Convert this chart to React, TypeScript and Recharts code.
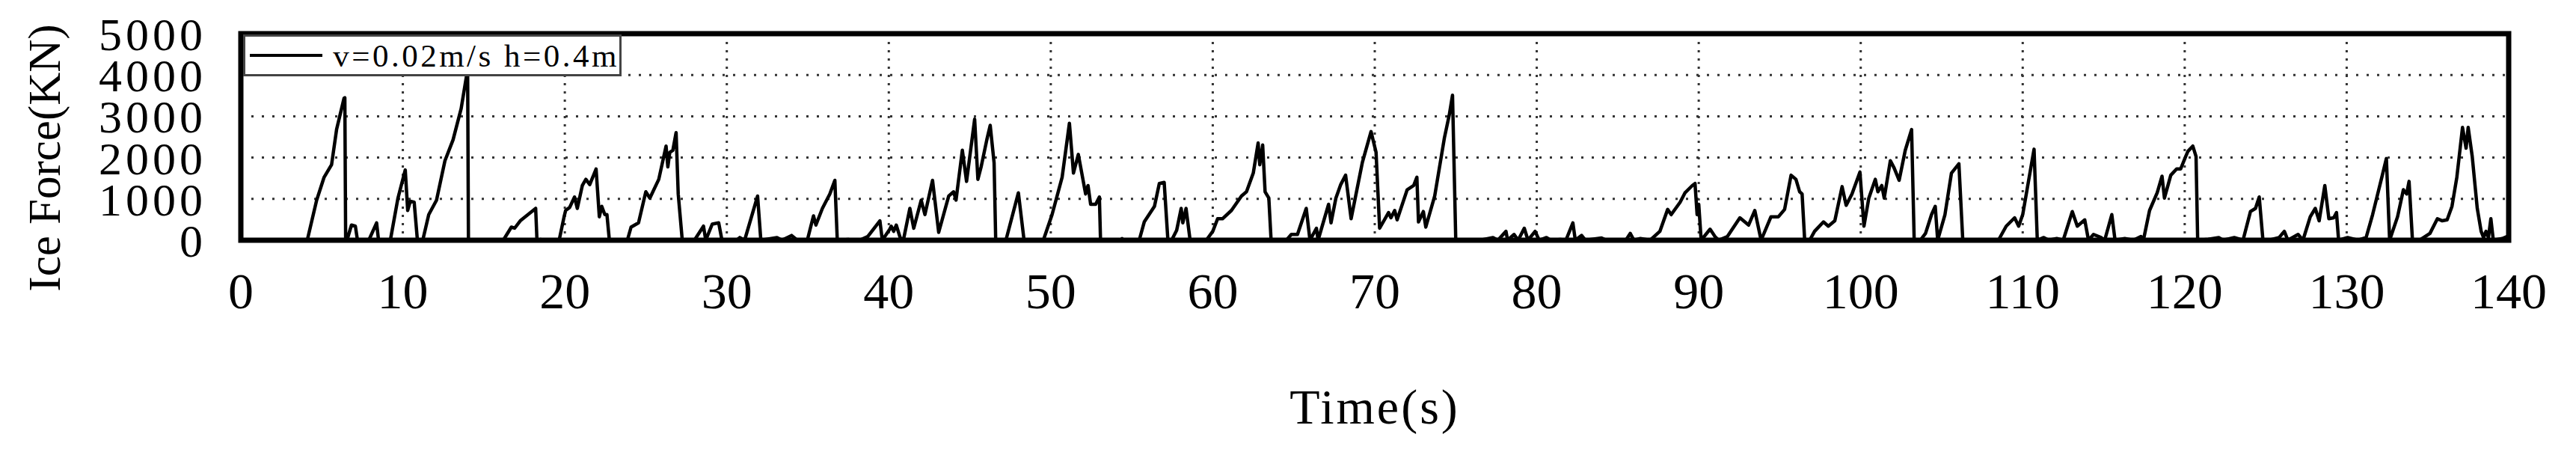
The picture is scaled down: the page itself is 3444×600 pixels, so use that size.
import React from 'react';
import {
  LineChart, Line, XAxis, YAxis, CartesianGrid, Legend, ReferenceArea, Label
} from 'recharts';

// Ice force time history
const timeS: number[] = [
  0, 4.1, 4.68, 5.14, 5.6, 5.91, 6.37, 6.42, 6.47, 6.55, 6.83, 7.07, 7.2, 7.9, 8.38, 8.5,
  9.23, 9.7, 10.15, 10.3, 10.46, 10.7, 10.9, 11.23, 11.6, 12.08, 12.6, 13.1, 13.6, 13.9, 14.0, 14.05,
  16.2, 16.7, 16.9, 17.25, 18.2, 18.28, 18.5, 18.7, 19.65, 19.95, 20.05, 20.3, 20.6, 20.77, 21.08, 21.3,
  21.54, 21.93, 22.13, 22.28, 22.47, 22.6, 22.75, 23.86, 24.09, 24.55, 25.0, 25.25, 25.8, 26.25, 26.36, 26.48,
  26.67, 26.87, 27.0, 27.25, 28.0, 28.56, 28.7, 29.1, 29.5, 29.7, 30.6, 30.8, 31.1, 31.9, 32.1, 33.1,
  33.4, 34.0, 34.35, 34.97, 35.35, 35.5, 35.9, 36.36, 36.67, 36.82, 37.5, 37.75, 38.2, 38.7, 39.45, 39.6,
  40.06, 40.15, 40.3, 40.46, 40.7, 40.9, 41.3, 41.54, 42.0, 42.23, 42.7, 43.08, 43.7, 44.0, 44.15, 44.54,
  44.8, 45.3, 45.5, 45.7, 46.05, 46.26, 46.5, 46.6, 47.23, 48.0, 48.35, 49.54, 50.08, 50.7, 51.15, 51.4,
  51.7, 52.15, 52.3, 52.46, 52.77, 53.0, 53.07, 54.3, 54.4, 54.5, 55.46, 55.77, 56.4, 56.7, 57.0, 57.23,
  57.46, 57.77, 58.05, 58.15, 58.35, 58.6, 59.6, 60.0, 60.3, 60.6, 61.15, 61.77, 62.08, 62.5, 62.8, 62.9,
  63.08, 63.23, 63.46, 63.6, 64.54, 64.85, 65.23, 65.77, 66.0, 66.4, 66.5, 67.15, 67.3, 67.6, 67.9, 68.2,
  68.54, 69.23, 69.77, 70.08, 70.3, 70.85, 71.0, 71.23, 71.38, 72.0, 72.4, 72.6, 72.7, 73.0, 73.15, 73.7,
  74.3, 74.6, 74.8, 75.0, 76.5, 77.3, 77.6, 78.1, 78.2, 78.6, 78.85, 79.23, 79.46, 79.9, 80.15, 80.6,
  80.85, 81.46, 81.8, 82.23, 82.38, 82.77, 83.0, 84.0, 84.3, 85.5, 85.77, 86.0, 86.4, 87.0, 87.6, 88.08,
  88.3, 88.85, 89.15, 89.6, 89.77, 89.9, 90.0, 90.15, 90.7, 91.0, 91.23, 91.77, 92.54, 93.08, 93.46, 93.85,
  94.46, 94.92, 95.3, 95.7, 96.0, 96.23, 96.38, 96.54, 96.85, 97.15, 97.7, 98.0, 98.4, 98.85, 99.1, 99.46,
  99.95, 100.2, 100.5, 100.9, 101.06, 101.3, 101.45, 101.83, 102.06, 102.37, 102.75, 103.14, 103.3, 103.68, 104.0, 104.37,
  104.6, 104.75, 105.2, 105.6, 106.06, 106.3, 108.5, 108.98, 109.5, 109.75, 110.0, 110.7, 110.9, 111.3, 111.6, 112.1,
  112.5, 113.06, 113.37, 113.83, 114.06, 114.37, 114.83, 115.06, 115.5, 115.7, 116.3, 116.83, 117.3, 117.45, 117.83, 118.3,
  118.6, 118.75, 119.14, 119.5, 119.75, 120.06, 120.2, 120.5, 120.7, 120.8, 121.45, 122.1, 122.37, 123.06, 123.6, 124.06,
  124.37, 124.6, 124.83, 125.2, 125.83, 126.15, 126.37, 127.0, 127.3, 127.75, 128.06, 128.3, 128.65, 128.9, 129.2, 129.37,
  129.5, 130.06, 130.7, 131.2, 131.6, 132.2, 132.45, 132.65, 133.14, 133.5, 133.7, 133.85, 134.06, 134.5, 135.14, 135.6,
  135.9, 136.2, 136.5, 136.8, 137.15, 137.37, 137.5, 137.75, 138.06, 138.3, 138.45, 138.6, 138.75, 138.9, 139.05, 139.6,
  139.9, 140
];

const forceKN: number[] = [
  0, 0, 970, 1525, 1826, 2680, 3435, 3450, 0, 0, 367, 340, 0, 0, 420, 0,
  0, 1020, 1700, 720, 945, 920, 0, 0, 620, 970, 1925, 2430, 3185, 3900, 4130, 0,
  0, 317, 290, 470, 770, 0, 20, 0, 0, 560, 720, 795, 1046, 770, 1323, 1474,
  1348, 1725, 568, 820, 620, 620, 0, 0, 317, 420, 1172, 1020, 1474, 2279, 1775, 2128,
  2178, 2605, 1120, 0, 0, 340, 0, 390, 420, 0, 0, 65, 0, 1070, 0, 65,
  0, 115, 0, 0, 590, 367, 770, 1120, 1450, 0, 20, 0, 0, 90, 470, 0,
  267, 340, 215, 367, 65, 0, 770, 290, 970, 620, 1450, 190, 1070, 1172, 970, 2178,
  1424, 2930, 1474, 1775, 2430, 2780, 1876, 0, 0, 1147, 0, 0, 620, 1524, 2832, 1625,
  2077, 1120, 1323, 870, 870, 1046, 0, 0, 40, 0, 0, 443, 820, 1373, 1400, 0,
  0, 240, 770, 420, 770, 0, 0, 215, 520, 520, 720, 1070, 1172, 1625, 2354, 1826,
  2304, 1172, 1020, 0, 0, 140, 140, 770, 0, 290, 0, 870, 420, 1020, 1348, 1574,
  520, 1876, 2630, 2128, 290, 670, 543, 720, 493, 1222, 1323, 1524, 443, 694, 317, 1070,
  2480, 3033, 3511, 0, 0, 65, 0, 215, 0, 140, 0, 290, 0, 215, 0, 65,
  0, 20, 0, 420, 0, 115, 0, 55, 0, 0, 165, 0, 40, 0, 215, 745,
  620, 920, 1147, 1323, 1373, 620, 870, 0, 267, 90, 0, 90, 543, 367, 720, 0,
  568, 568, 745, 1574, 1474, 1172, 1120, 0, 0, 215, 443, 340, 470, 1297, 845, 1120,
  1650, 340, 1020, 1474, 1172, 1323, 1020, 1926, 1750, 1450, 2178, 2680, 0, 0, 165, 620,
  820, 0, 620, 1625, 1851, 0, 0, 340, 543, 340, 620, 2203, 0, 65, 0, 40,
  0, 694, 340, 493, 0, 140, 65, 0, 620, 0, 40, 0, 90, 0, 720, 1147,
  1550, 1020, 1574, 1725, 1725, 2027, 2153, 2279, 2027, 0, 25, 65, 0, 65, 0, 694,
  770, 1046, 0, 0, 65, 215, 0, 140, 0, 568, 770, 470, 1323, 520, 543, 670,
  0, 65, 0, 65, 620, 1574, 1977, 0, 568, 1222, 1120, 1424, 0, 0, 165, 520,
  470, 493, 820, 1524, 2730, 2228, 2730, 2027, 770, 215, 65, 215, 65, 520, 0, 40,
  90, 0
];

const xTicks = [0, 10, 20, 30, 40, 50, 60, 70, 80, 90, 100, 110, 120, 130, 140];
const yTicks = [0, 1000, 2000, 3000, 4000, 5000];
const seriesName = 'v=0.02m/s h=0.4m';

const chartData = timeS.map((t, i) => ({ t, force: forceKN[i] }));

const FONT = '"Liberation Serif", "Times New Roman", serif';

const LegendBox = () => (
  <div
    style={{
      display: 'flex',
      alignItems: 'center',
      boxSizing: 'border-box',
      width: 506,
      height: 56,
      border: '3px solid #444',
      background: '#fff',
      fontFamily: FONT,
      fontSize: 43,
      letterSpacing: 3.5,
      color: '#000',
      whiteSpace: 'nowrap',
    }}
  >
    <div style={{ width: 110, height: 4, background: '#000', marginLeft: 6, marginRight: 14 }} />
    <span>{seriesName}</span>
  </div>
);

const App: React.FC = () => {
  return (
    <div style={{ position: 'absolute', left: 0, top: 0, background: '#fff' }}>
      <LineChart
        width={3444}
        height={600}
        data={chartData}
        margin={{ top: 45, right: 90, bottom: 123, left: 222 }}
      >
        {/* dotted grid, horizontal and vertical drawn separately */}
        <CartesianGrid vertical={false} stroke="#333" strokeWidth={3} strokeDasharray="3 11" />
        <CartesianGrid horizontal={false} stroke="#333" strokeWidth={3} strokeDasharray="3 8" />
        <XAxis
          dataKey="t"
          type="number"
          domain={[0, 140]}
          ticks={xTicks}
          interval={0}
          height={100}
          axisLine={false}
          tickLine={false}
          tickSize={0}
          tickMargin={43}
          tick={{ fill: '#000', fontSize: 68, fontFamily: FONT }}
        >
          <Label
            content={() => (
              <text x={1838} y={566} textAnchor="middle" fontFamily={FONT} fontSize={66} letterSpacing={3} fill="#000">
                Time(s)
              </text>
            )}
          />
        </XAxis>
        <YAxis
          type="number"
          domain={[0, 5000]}
          ticks={yTicks}
          interval={0}
          width={100}
          axisLine={false}
          tickLine={false}
          tickSize={0}
          tickMargin={46}
          tick={{ fill: '#000', fontSize: 62, fontFamily: FONT, letterSpacing: 5 }}
        >
          <Label
            content={() => (
              <text
                x={80}
                y={211}
                transform="rotate(-90 80 211)"
                textAnchor="middle"
                fontFamily={FONT}
                fontSize={61}
                fill="#000"
              >
                Ice Force(KN)
              </text>
            )}
          />
        </YAxis>
        <Line
          type="linear"
          dataKey="force"
          name={seriesName}
          stroke="#000"
          strokeWidth={4.5}
          strokeLinejoin="round"
          dot={false}
          activeDot={false}
          isAnimationActive={false}
        />
        {/* plot frame */}
        <ReferenceArea x1={0} x2={140} y1={0} y2={5000} fill="none" stroke="#000" strokeWidth={7} />
        <Legend content={() => <LegendBox />} wrapperStyle={{ left: 325, top: 46, width: 506 }} />
      </LineChart>
    </div>
  );
};

export default App;
